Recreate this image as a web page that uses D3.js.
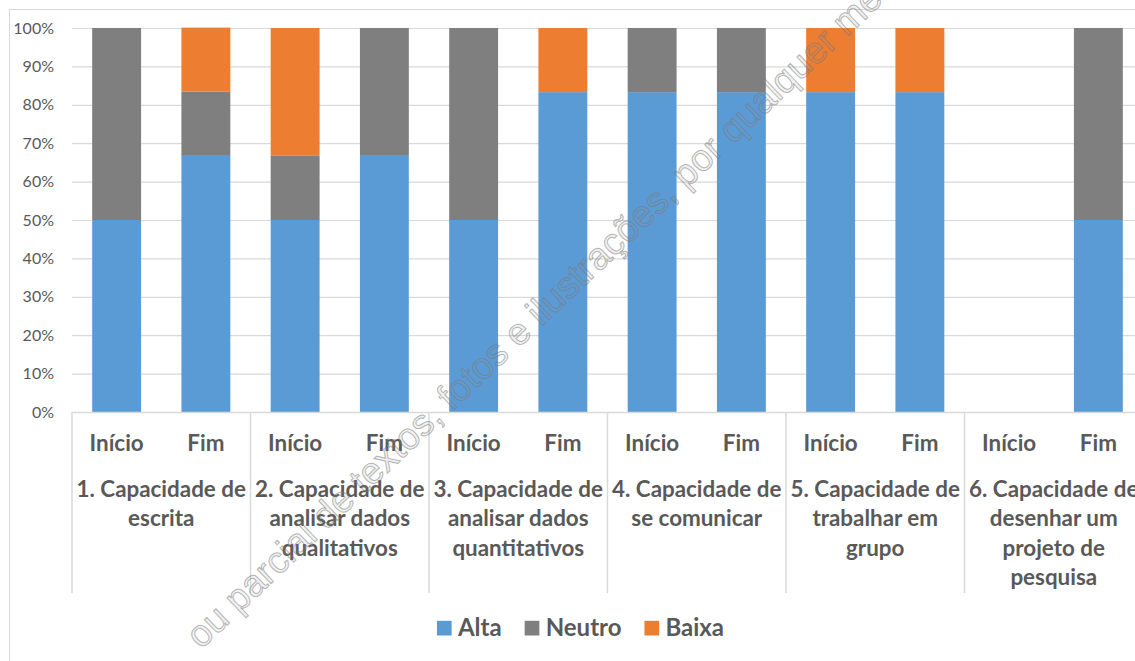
<!DOCTYPE html>
<html>
<head>
<meta charset="utf-8">
<script src="https://cdn.jsdelivr.net/npm/d3@7"></script>
<style>
  html, body { margin: 0; padding: 0; background: #fff; }
  svg { display: block; }
</style>
</head>
<body>
<svg id="chart" width="1135" height="661"></svg>
<script>
// ---- data ----
const groups = [
  ["1. Capacidade de", "escrita"],
  ["2. Capacidade de", "analisar dados", "qualitativos"],
  ["3. Capacidade de", "analisar dados", "quantitativos"],
  ["4. Capacidade de", "se comunicar"],
  ["5. Capacidade de", "trabalhar em", "grupo"],
  ["6. Capacidade de", "desenhar um", "projeto de", "pesquisa"]
];
const periods = ["Início", "Fim"];
const seriesNames = ["Alta", "Neutro", "Baixa"];
const alta   = [50, 66.7, 50, 66.7, 50, 83.3, 83.3, 83.3, 83.3, 83.3, 0, 50];
const neutro = [50, 16.7, 16.7, 33.3, 50, 0, 16.7, 16.7, 0, 0, 0, 50];
const baixa  = [0, 16.7, 33.3, 0, 0, 16.7, 0, 0, 16.7, 16.7, 0, 0];
const yTicks = [0, 10, 20, 30, 40, 50, 60, 70, 80, 90, 100];
const watermark = "ou parcial de textos, fotos e ilustrações, por qualquer meio";

const colors = { Alta: "#5b9bd5", Neutro: "#7f7f7f", Baixa: "#ed7d31" };
const textColor = "#595959";
const gridColor = "#d9d9d9";

// ---- layout ----
const svg = d3.select("#chart");
const plotLeft = 72, plotRight = 1143, plotTop = 28, plotBottom = 412;

const keys = [];
groups.forEach((g, gi) => periods.forEach(p => keys.push(gi + "|" + p)));

const rows = keys.map((k, i) => ({ key: k, Alta: alta[i], Neutro: neutro[i], Baixa: baixa[i] }));

const x = d3.scaleBand().domain(keys).range([plotLeft, plotRight])
  .paddingInner(0.452).paddingOuter(0.226);
const xg = d3.scaleBand().domain(groups.map((g, i) => i)).range([plotLeft, plotRight]);
const y = d3.scaleLinear().domain([0, 100]).range([plotBottom, plotTop]);

// chart area border
svg.append("rect")
  .attr("x", 9.5).attr("y", 9.5).attr("width", 1142).attr("height", 720)
  .attr("fill", "#fff").attr("stroke", gridColor).attr("stroke-width", 1);

// gridlines
const grid = svg.append("g").attr("transform", `translate(${plotLeft},0)`)
  .call(d3.axisLeft(y).tickValues(yTicks).tickSize(-(plotRight - plotLeft)).tickFormat(""));
grid.select(".domain").remove();
grid.selectAll("line").attr("stroke", gridColor).attr("stroke-width", 1.2);

// y tick labels
const yAxis = svg.append("g").attr("transform", `translate(${plotLeft},0)`)
  .call(d3.axisLeft(y).tickValues(yTicks).tickSize(0).tickPadding(18).tickFormat(d => d + "%"));
yAxis.select(".domain").remove();
yAxis.selectAll("text")
  .attr("fill", textColor)
  .style("font-family", "Lato, 'Open Sans', sans-serif")
  .style("font-size", "16px");

// stacked bars
const stack = d3.stack().keys(seriesNames)(rows);
svg.append("g").selectAll("g").data(stack).join("g")
  .attr("fill", d => colors[d.key])
  .selectAll("rect").data(d => d).join("rect")
  .attr("x", d => x(d.data.key))
  .attr("width", x.bandwidth())
  .attr("y", d => y(d[1]))
  .attr("height", d => y(d[0]) - y(d[1]));

// category axis
const axisG = svg.append("g");
axisG.append("line")
  .attr("x1", plotLeft).attr("x2", 1200)
  .attr("y1", plotBottom + 0.5).attr("y2", plotBottom + 0.5)
  .attr("stroke", gridColor).attr("stroke-width", 1.5);

const boundaries = groups.map((g, i) => xg(i)).concat([xg(groups.length - 1) + xg.bandwidth()]);
axisG.selectAll("line.sep").data(boundaries).join("line")
  .attr("class", "sep")
  .attr("x1", d => d).attr("x2", d => d)
  .attr("y1", plotBottom).attr("y2", 593)
  .attr("stroke", gridColor).attr("stroke-width", 1.5);

const labelFont = "Lato, 'Open Sans', sans-serif";
axisG.selectAll("text.period").data(keys).join("text")
  .attr("class", "period")
  .attr("x", d => x(d) + x.bandwidth() / 2)
  .attr("y", 451)
  .attr("text-anchor", "middle")
  .attr("fill", textColor)
  .style("font-family", labelFont)
  .style("font-weight", "bold")
  .style("font-size", "22.4px")
  .text(d => d.split("|")[1]);

const gl = axisG.selectAll("text.group").data(groups).join("text")
  .attr("class", "group")
  .attr("text-anchor", "middle")
  .attr("fill", textColor)
  .style("font-family", labelFont)
  .style("font-weight", "bold")
  .style("font-size", "22.4px");
gl.each(function(lines, i) {
  const t = d3.select(this);
  lines.forEach((ln, j) => {
    t.append("tspan")
      .attr("x", xg(i) + xg.bandwidth() / 2)
      .attr("y", 497 + j * 29.3)
      .text(ln);
  });
});

// legend
const legend = svg.append("g");
let lx = 0;
seriesNames.forEach(name => {
  const g = legend.append("g");
  g.append("rect").attr("x", 0).attr("y", -14.7).attr("width", 14.7).attr("height", 14.7)
    .attr("fill", colors[name]);
  const t = g.append("text").attr("x", 21).attr("y", 0)
    .attr("fill", textColor)
    .style("font-family", labelFont)
    .style("font-weight", "bold")
    .style("font-size", "24px")
    .text(name);
  const w = 21 + t.node().getComputedTextLength();
  g.attr("transform", `translate(${lx},0)`);
  lx += w + 23;
});
const legendWidth = lx - 23;
legend.attr("transform", `translate(${580.5 - legendWidth / 2},635.5)`);

// watermark
svg.append("text")
  .attr("transform", "translate(201,650) rotate(-43.5)")
  .attr("fill", "rgba(150,150,150,0.12)")
  .attr("stroke", "rgba(120,120,120,0.55)")
  .attr("stroke-width", 1)
  .style("font-family", "'Liberation Sans', Arial, sans-serif")
  .style("font-size", "37.5px")
  .text(watermark);
</script>
</body>
</html>
